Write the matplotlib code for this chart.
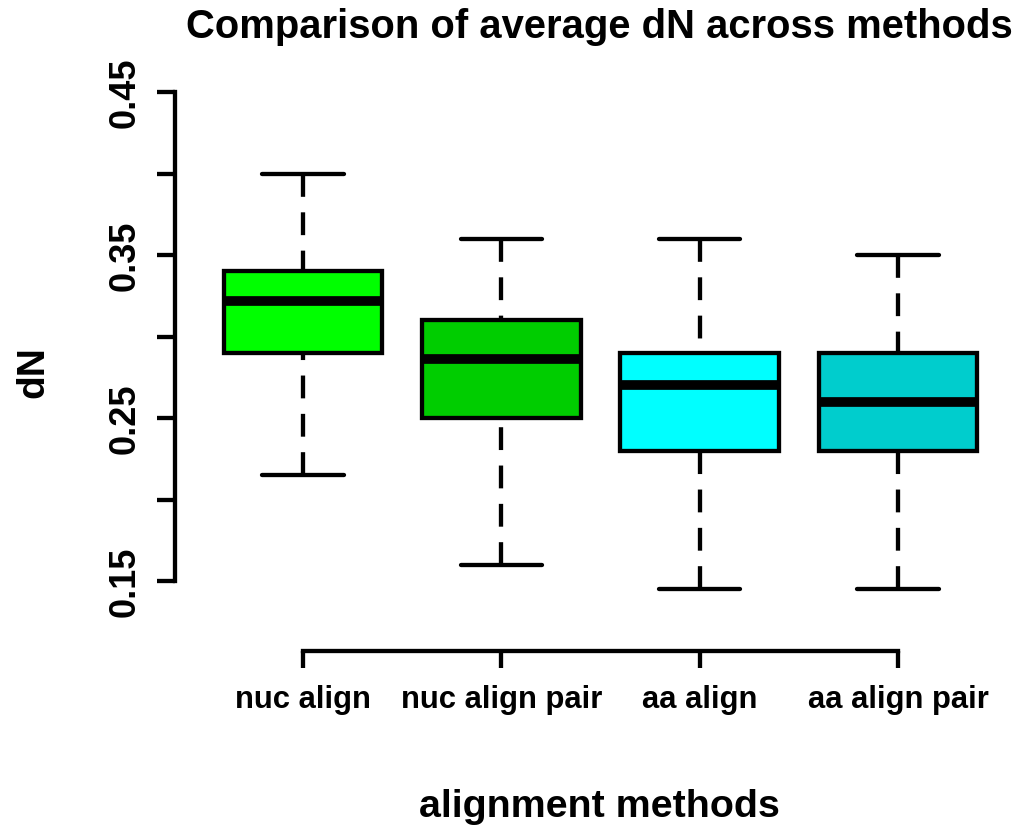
import matplotlib
matplotlib.use("Agg")
import matplotlib.pyplot as plt

plt.rcParams["font.family"] = ["Liberation Sans", "DejaVu Sans"]

# Five-number summaries of average dN for each alignment method
methods = ["nuc align", "nuc align pair", "aa align", "aa align pair"]
whisker_low = [0.215, 0.160, 0.145, 0.145]
q1 = [0.290, 0.250, 0.230, 0.230]
median = [0.322, 0.286, 0.270, 0.260]
q3 = [0.340, 0.310, 0.290, 0.290]
whisker_high = [0.400, 0.360, 0.360, 0.350]
box_colors = ["#00FF00", "#00CD00", "#00FFFF", "#00CDCD"]
y_ticks = [0.15, 0.20, 0.25, 0.30, 0.35, 0.40, 0.45]
y_tick_labels = ["0.15", "", "0.25", "", "0.35", "", "0.45"]

W, H = 1023, 828
fig = plt.figure(figsize=(W / 100, H / 100), dpi=100)
ax = fig.add_axes([175 / W, (H - 652) / H, 848 / W, 582 / H])

stats = [
    dict(whislo=lo, q1=a, med=m, q3=b, whishi=hi, fliers=[], label=name)
    for name, lo, a, m, b, hi in zip(methods, whisker_low, q1, median, q3, whisker_high)
]
positions = list(range(1, len(methods) + 1))

lw = 3.1
bp = ax.bxp(
    stats,
    positions=positions,
    widths=0.8,
    capwidths=0.41,
    patch_artist=True,
    showfliers=False,
    boxprops=dict(linewidth=lw, edgecolor="black", joinstyle="miter"),
    medianprops=dict(color="black", linewidth=7.0, solid_capstyle="butt"),
    whiskerprops=dict(color="black", linewidth=lw,
                      linestyle=(0, (5.3, 3.6)), dash_capstyle="butt"),
    capprops=dict(color="black", linewidth=lw, solid_capstyle="round"),
)
for patch, color in zip(bp["boxes"], box_colors):
    patch.set_facecolor(color)
# dash pattern starts at the whisker end (cap) and runs toward the box
for line in bp["whiskers"]:
    xd, yd = line.get_data()
    line.set_data(list(xd)[::-1], list(yd)[::-1])

ax.set_xlim(0.3545, 4.6304)
ax.set_ylim(0.10706, 0.46411)

for side in ("top", "right"):
    ax.spines[side].set_visible(False)
ax.spines["left"].set_bounds(0.15, 0.45)
ax.spines["bottom"].set_bounds(1, 4)
ax.spines["left"].set_linewidth(lw)
ax.spines["bottom"].set_linewidth(lw)

ax.set_yticks(y_ticks)
ax.set_yticklabels(y_tick_labels, rotation=90, va="center",
                   fontsize=26, fontweight="bold")
ax.set_xticks(positions)
ax.set_xticklabels(methods, fontsize=22.3, fontweight="bold")
ax.tick_params(axis="y", length=13, width=lw, pad=10)
ax.tick_params(axis="x", length=12, width=lw, pad=12)

fig.text(599 / W, 1 - 38 / H, "Comparison of average dN across methods",
         ha="center", va="baseline", fontsize=28.8, fontweight="bold")
fig.text(599 / W, 1 - 817 / H, "alignment methods",
         ha="center", va="baseline", fontsize=28.4, fontweight="bold")
fig.text(43 / W, 1 - 372 / H, "dN", rotation=90, rotation_mode="anchor",
         ha="center", va="baseline", fontsize=28, fontweight="bold")

fig.savefig("out.png", dpi=100, facecolor="white")
